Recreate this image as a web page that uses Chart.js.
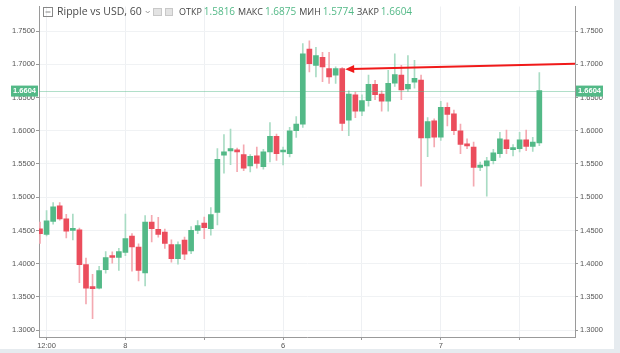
<!DOCTYPE html>
<html>
<head>
<meta charset="utf-8">
<script src="https://cdn.jsdelivr.net/npm/chart.js@4.4.1/dist/chart.umd.min.js"></script>
<style>
  html, body { margin: 0; padding: 0; background: #e6ebef; }
  #wrap { position: relative; width: 614px; height: 349px; background: #fff; }
</style>
</head>
<body>
<div id="wrap"><canvas id="chart"></canvas></div>
<script>
// hourly candles
const opens = [1.4525, 1.4442, 1.4634, 1.4870, 1.4673, 1.4500, 1.4510, 1.3985, 1.3650, 1.3631,
  1.3911, 1.4122, 1.4093, 1.4171, 1.4417, 1.4251, 1.3861, 1.4624, 1.4516, 1.4476,
  1.4289, 1.4074, 1.4354, 1.4192, 1.4501, 1.4609, 1.4525, 1.4771, 1.5631, 1.5696,
  1.5706, 1.5642, 1.5470, 1.5622, 1.5460, 1.5682, 1.5917, 1.5680, 1.5656, 1.6000,
  1.6099, 1.7230, 1.6984, 1.7106, 1.6935, 1.6836, 1.6935, 1.6158, 1.6541, 1.6295,
  1.6453, 1.6699, 1.6552, 1.6443, 1.6714, 1.6836, 1.6630, 1.6729, 1.6763, 1.5892,
  1.6148, 1.5903, 1.6354, 1.6256, 1.6000, 1.5804, 1.5755, 1.5450, 1.5470, 1.5549,
  1.5656, 1.5863, 1.5715, 1.5730, 1.5863, 1.5764, 1.5816];
const highs = [1.4624, 1.4800, 1.4919, 1.4920, 1.4742, 1.4746, 1.4535, 1.4083, 1.3838, 1.3960,
  1.4181, 1.4180, 1.4230, 1.4746, 1.4451, 1.4300, 1.4723, 1.4727, 1.4698, 1.4520,
  1.4360, 1.4330, 1.4400, 1.4560, 1.4649, 1.4700, 1.4845, 1.5730, 1.5941, 1.6025,
  1.5740, 1.5789, 1.5640, 1.5755, 1.5720, 1.6124, 1.5950, 1.5755, 1.6050, 1.6212,
  1.7313, 1.7353, 1.7254, 1.7180, 1.7180, 1.6960, 1.6950, 1.6600, 1.6580, 1.6540,
  1.6836, 1.6760, 1.6600, 1.6910, 1.7156, 1.6985, 1.7131, 1.7058, 1.6836, 1.6198,
  1.6180, 1.6443, 1.6420, 1.6310, 1.6100, 1.5880, 1.5830, 1.5530, 1.5600, 1.5720,
  1.5976, 1.6010, 1.5790, 1.5976, 1.6010, 1.5900, 1.6875];
const lows = [1.4304, 1.4417, 1.4594, 1.4653, 1.4388, 1.4358, 1.3714, 1.3395, 1.3174, 1.3620,
  1.3857, 1.4009, 1.3897, 1.4122, 1.3887, 1.3739, 1.3665, 1.4329, 1.4400, 1.4230,
  1.4024, 1.3994, 1.4060, 1.4150, 1.4452, 1.4378, 1.4428, 1.4584, 1.5361, 1.5490,
  1.5386, 1.5400, 1.5380, 1.5435, 1.5420, 1.5530, 1.5555, 1.5484, 1.5607, 1.5900,
  1.6050, 1.6885, 1.6811, 1.6738, 1.6713, 1.6713, 1.6000, 1.5926, 1.6198, 1.6225,
  1.6370, 1.6468, 1.6295, 1.6295, 1.6665, 1.6468, 1.6590, 1.6640, 1.5165, 1.5608,
  1.5755, 1.5855, 1.6074, 1.5940, 1.5656, 1.5730, 1.5165, 1.5400, 1.5017, 1.5500,
  1.5600, 1.5656, 1.5620, 1.5680, 1.5700, 1.5690, 1.5774];
const closes = [1.4451, 1.4643, 1.4855, 1.4673, 1.4490, 1.4510, 1.3985, 1.3631, 1.3625, 1.3897,
  1.4093, 1.4093, 1.4181, 1.4378, 1.4251, 1.3897, 1.4624, 1.4525, 1.4442, 1.4304,
  1.4074, 1.4289, 1.4142, 1.4501, 1.4575, 1.4540, 1.4737, 1.5568, 1.5682, 1.5730,
  1.5682, 1.5435, 1.5615, 1.5509, 1.5682, 1.5917, 1.5656, 1.5684, 1.6000, 1.6099,
  1.7156, 1.7009, 1.7131, 1.6959, 1.6811, 1.6935, 1.6109, 1.6552, 1.6295, 1.6453,
  1.6699, 1.6541, 1.6443, 1.6714, 1.6846, 1.6615, 1.6699, 1.6788, 1.5892, 1.6139,
  1.5903, 1.6354, 1.6246, 1.6000, 1.5794, 1.5770, 1.5450, 1.5484, 1.5549, 1.5667,
  1.5878, 1.5730, 1.5745, 1.5863, 1.5764, 1.5829, 1.6604];

const xTickIndex = [1, 13, 25, 37, 49, 61, 73];
const xTickLabels = ['12:00', '8', '', '6', '', '7', ''];
const yTicks = [1.30, 1.35, 1.40, 1.45, 1.50, 1.55, 1.60, 1.65, 1.70, 1.75];
const lastPrice = 1.6604;
const legendLabels = ['ОТКР', 'МАКС', 'МИН', 'ЗАКР'];
const legendValues = ['1.5816', '1.6875', '1.5774', '1.6604'];
const title = 'Ripple vs USD, 60';
// drawn arrow (x in candle index, y in price)
const arrowFrom = [81.43, 1.7006];
const arrowTo = [46.45, 1.6925];

const GREEN = '#53b987';
const RED = '#eb4d5c';
const GREEN_WICK = '#a9dcc4';
const RED_WICK = '#f4a9b1';
const TICK_FONT = { family: 'Liberation Sans', size: 7.5 };

const idx = opens.map((_, i) => i);
const isUp = i => closes[i] >= opens[i];

const overlay = {
  id: 'overlay',
  afterDatasetsDraw(chart) {
    const { ctx, chartArea: a, scales: { x, y } } = chart;
    ctx.save();
    ctx.beginPath();
    ctx.rect(a.left, a.top, a.right - a.left, a.bottom - a.top);
    ctx.clip();
    // last price line
    const py = Math.round(y.getPixelForValue(lastPrice)) + 0.5;
    ctx.strokeStyle = 'rgba(83,185,135,0.45)';
    ctx.lineWidth = 1;
    ctx.beginPath(); ctx.moveTo(a.left, py); ctx.lineTo(a.right, py); ctx.stroke();
    // red arrow
    const x1 = x.getPixelForValue(arrowFrom[0]), y1 = y.getPixelForValue(arrowFrom[1]);
    const x2 = x.getPixelForValue(arrowTo[0]), y2 = y.getPixelForValue(arrowTo[1]);
    const ang = Math.atan2(y2 - y1, x2 - x1);
    ctx.strokeStyle = '#f01a1a'; ctx.fillStyle = '#f01a1a';
    ctx.lineWidth = 2;
    ctx.beginPath(); ctx.moveTo(x1, y1);
    ctx.lineTo(x2 - 6 * Math.cos(ang), y2 - 6 * Math.sin(ang)); ctx.stroke();
    ctx.beginPath();
    ctx.moveTo(x2, y2);
    ctx.lineTo(x2 - 9 * Math.cos(ang) + 4 * Math.sin(ang), y2 - 9 * Math.sin(ang) - 4 * Math.cos(ang));
    ctx.lineTo(x2 - 9 * Math.cos(ang) - 4 * Math.sin(ang), y2 - 9 * Math.sin(ang) + 4 * Math.cos(ang));
    ctx.closePath(); ctx.fill();
    ctx.restore();
  },
  afterDraw(chart) {
    const { ctx, chartArea: a, scales: { y } } = chart;
    ctx.save();
    // price boxes on both axes
    const py = y.getPixelForValue(lastPrice);
    ctx.font = 'bold 7.5px "Liberation Sans"';
    ctx.textBaseline = 'middle';
    ctx.textAlign = 'center';
    [[a.left - 28, a.left - 1], [a.right + 1, a.right + 28]].forEach(([l, r]) => {
      ctx.fillStyle = GREEN;
      ctx.fillRect(l, py - 5, r - l, 11);
      ctx.fillStyle = '#fff';
      ctx.fillText(lastPrice.toFixed(4), (l + r) / 2, py + 0.5);
    });
    // header
    ctx.textAlign = 'left';
    ctx.strokeStyle = '#888'; ctx.lineWidth = 1;
    ctx.strokeRect(43.5, 7.5, 9, 9);
    ctx.beginPath(); ctx.moveTo(45.5, 12); ctx.lineTo(50.5, 12); ctx.stroke();
    ctx.font = '10.5px "Open Sans"';
    ctx.fillStyle = '#4a4a4a';
    ctx.fillText(title, 57, 12.5);
    let cx = 57 + ctx.measureText(title).width + 4;
    ctx.strokeStyle = '#999';
    ctx.beginPath(); ctx.moveTo(cx, 11); ctx.lineTo(cx + 2, 13); ctx.lineTo(cx + 4, 11); ctx.stroke();
    ctx.fillStyle = '#e3e3e3'; ctx.strokeStyle = '#c8c8c8';
    ctx.fillRect(153, 8, 9, 8); ctx.strokeRect(153.5, 8.5, 8, 7);
    ctx.fillRect(165, 8, 8, 8); ctx.strokeRect(165.5, 8.5, 7, 7);
    cx = 179;
    legendLabels.forEach((lab, i) => {
      ctx.font = '9px "Open Sans"';
      ctx.fillStyle = '#444';
      ctx.fillText(lab, cx, 12.5);
      cx += ctx.measureText(lab).width + 2;
      ctx.font = '10px "Open Sans"';
      ctx.fillStyle = GREEN;
      ctx.fillText(legendValues[i], cx, 12.5);
      cx += ctx.measureText(legendValues[i]).width + 3;
    });
    ctx.restore();
  }
};

new Chart(document.getElementById('chart'), {
  type: 'bar',
  data: {
    datasets: [{
      label: 'wick',
      data: idx.map(i => ({ x: i, y: [lows[i], highs[i]] })),
      backgroundColor: c => isUp(c.dataIndex) ? GREEN_WICK : RED_WICK,
      barThickness: 1,
      grouped: false,
      order: 2
    }, {
      label: 'body',
      data: idx.map(i => ({ x: i, y: [opens[i], closes[i]] })),
      backgroundColor: c => isUp(c.dataIndex) ? GREEN : RED,
      barThickness: 5,
      minBarLength: 2,
      grouped: false,
      order: 1
    }]
  },
  options: {
    responsive: true,
    maintainAspectRatio: false,
    animation: false,
    layout: { padding: 0 },
    plugins: { legend: { display: false }, tooltip: { enabled: false } },
    scales: {
      x: {
        type: 'linear',
        offset: false,
        min: -0.152,
        max: 81.43,
        afterBuildTicks: s => { s.ticks = xTickIndex.map(v => ({ value: v })); },
        afterFit: s => { s.height = 12; },
        ticks: {
          callback: v => { const k = xTickIndex.indexOf(v); return k >= 0 ? xTickLabels[k] : ''; },
          font: TICK_FONT, color: '#555', padding: 1, maxRotation: 0, autoSkip: false
        },
        grid: { offset: false, color: '#eef0f3', tickColor: '#999', tickLength: 3 },
        border: { color: '#9a9a9a' }
      },
      y: {
        position: 'left',
        min: 1.2897,
        max: 1.7869,
        afterBuildTicks: s => { s.ticks = yTicks.map(v => ({ value: v })); },
        afterFit: s => { s.width = 39; },
        ticks: { callback: v => v.toFixed(4), font: TICK_FONT, color: '#555', padding: 1 },
        grid: { color: '#f0f2f4', tickColor: '#999', tickLength: 3 },
        border: { color: '#9a9a9a' }
      },
      y2: {
        position: 'right',
        min: 1.2897,
        max: 1.7869,
        afterBuildTicks: s => { s.ticks = yTicks.map(v => ({ value: v })); },
        afterFit: s => { s.width = 39; },
        ticks: { callback: v => v.toFixed(4), font: TICK_FONT, color: '#555', padding: 2 },
        grid: { drawOnChartArea: false, tickColor: '#999', tickLength: 3 },
        border: { color: '#9a9a9a' }
      }
    }
  },
  plugins: [overlay]
});
</script>
</body>
</html>
